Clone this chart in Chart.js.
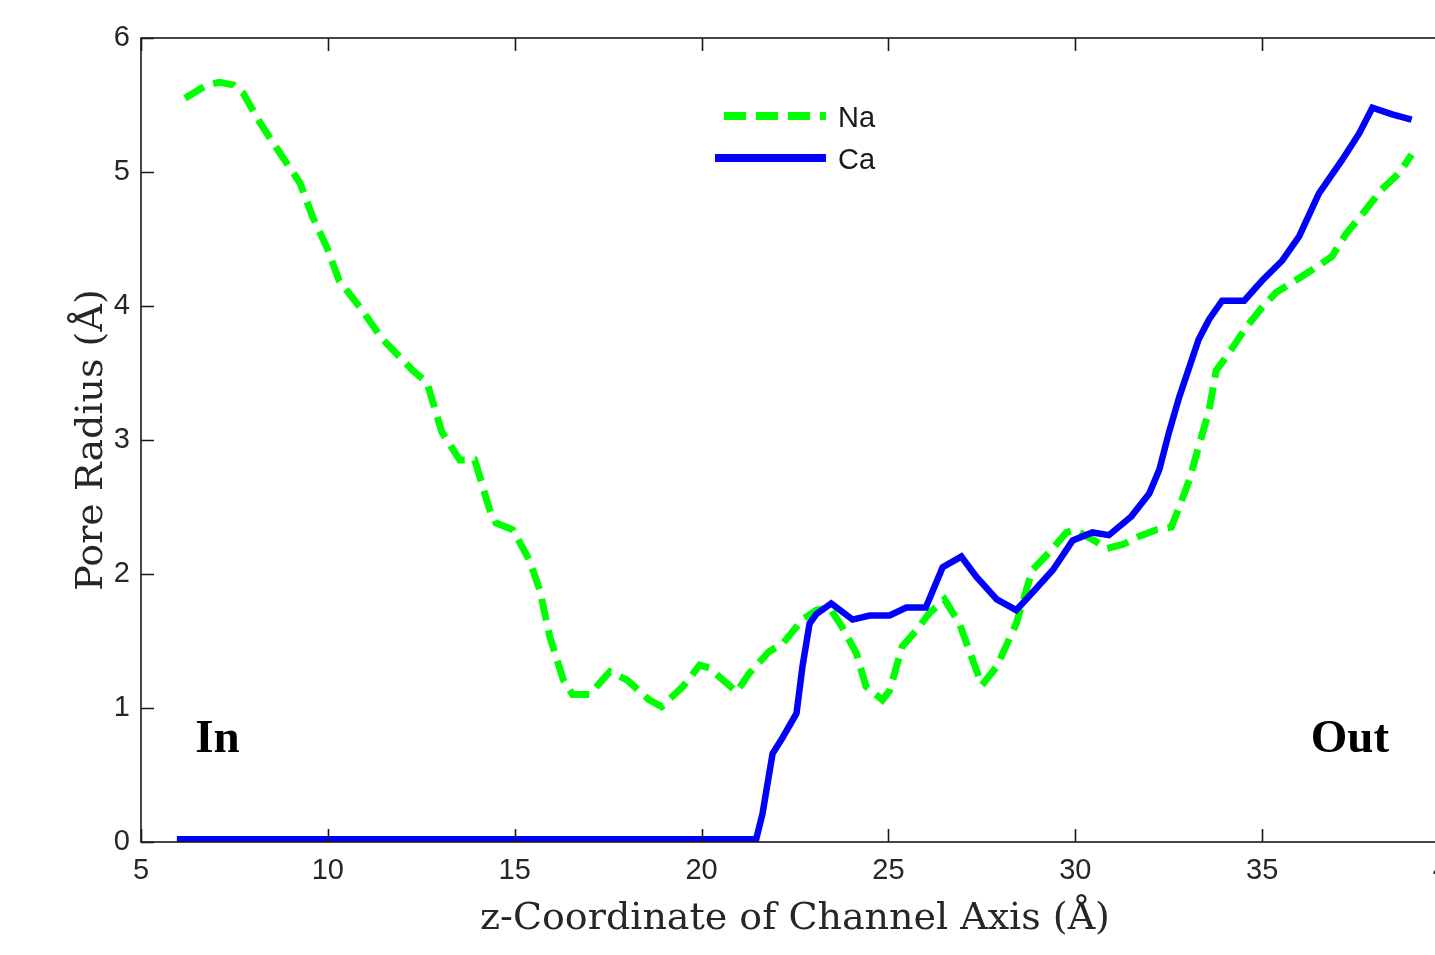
<!DOCTYPE html>
<html>
<head>
<meta charset="utf-8">
<script src="https://cdn.jsdelivr.net/npm/chart.js@4.4.1/dist/chart.umd.min.js"></script>
<style>
  html, body { margin: 0; padding: 0; background: #fff; overflow: hidden; width: 1435px; height: 955px; }
  canvas { display: block; }
</style>
</head>
<body>
<canvas id="c" width="1480" height="955" style="width:1480px;height:955px"></canvas>
<script>
// ---- data ----
const naX = [6.18, 6.76, 7.1, 7.47, 7.73, 8.18, 8.72, 9.25, 9.6, 9.97, 10.3, 10.86, 11.47, 12.27, 12.65, 13.05, 13.53, 13.93, 14.33, 14.5, 14.95, 15.4, 15.67, 15.94, 16.3, 16.55, 17.0, 17.54, 18.0, 18.6, 18.93, 19.5, 19.95, 20.2, 20.94, 21.28, 21.8, 22.17, 22.7, 23.07, 23.42, 23.77, 24.14, 24.4, 24.84, 25.03, 25.37, 25.75, 26.1, 26.5, 26.9, 27.5, 27.9, 28.42, 28.85, 29.3, 29.76, 30.0, 30.56, 30.83, 31.27, 31.7, 32.17, 32.57, 32.78, 33.05, 33.3, 33.58, 33.77, 34.04, 34.57, 35.0, 35.37, 35.72, 36.34, 36.87, 37.25, 37.78, 38.2, 38.66, 39.0];
const naY = [5.55, 5.65, 5.67, 5.65, 5.59, 5.37, 5.14, 4.92, 4.66, 4.44, 4.19, 3.99, 3.75, 3.52, 3.43, 3.06, 2.85, 2.85, 2.48, 2.38, 2.33, 2.1, 1.88, 1.53, 1.21, 1.1, 1.1, 1.27, 1.21, 1.06, 1.01, 1.16, 1.32, 1.3, 1.12, 1.26, 1.42, 1.48, 1.66, 1.73, 1.75, 1.6, 1.41, 1.16, 1.06, 1.13, 1.46, 1.58, 1.71, 1.81, 1.63, 1.17, 1.31, 1.63, 2.03, 2.16, 2.31, 2.33, 2.24, 2.19, 2.22, 2.28, 2.33, 2.35, 2.5, 2.7, 2.95, 3.22, 3.52, 3.62, 3.84, 3.99, 4.1, 4.16, 4.27, 4.37, 4.54, 4.72, 4.87, 4.99, 5.13];
const caX = [5.96, 21.46, 21.63, 21.9, 22.17, 22.54, 22.7, 22.89, 23.07, 23.47, 24.04, 24.5, 25.03, 25.48, 26.0, 26.45, 26.95, 27.35, 27.9, 28.42, 28.85, 29.4, 29.93, 30.46, 30.9, 31.5, 31.98, 32.25, 32.5, 32.78, 33.3, 33.58, 33.93, 34.52, 35.0, 35.54, 35.99, 36.52, 37.14, 37.6, 37.95, 38.48, 39.0];
const caY = [0.02, 0.02, 0.21, 0.66, 0.78, 0.96, 1.31, 1.63, 1.70, 1.78, 1.66, 1.69, 1.69, 1.75, 1.75, 2.05, 2.13, 1.98, 1.81, 1.73, 1.86, 2.03, 2.25, 2.31, 2.29, 2.43, 2.60, 2.78, 3.05, 3.32, 3.75, 3.90, 4.04, 4.04, 4.19, 4.34, 4.52, 4.84, 5.09, 5.29, 5.48, 5.43, 5.39];
const seriesNames = ["Na", "Ca"];
const xTitle = "z-Coordinate of Channel Axis (Å)";
const yTitle = "Pore Radius (Å)";
const xMin = 5, xMax = 40, xStep = 5;
const yMin = 0, yMax = 6, yStep = 1;
const sideLabels = [{ text: "In", x: 6.45, y: 0.67 }, { text: "Out", x: 36.3, y: 0.67 }];

const tickFont = '"Liberation Sans Narrow", "Liberation Sans", Arial, sans-serif';
const toPts = (xs, ys) => xs.map((x, i) => ({ x: x, y: ys[i] }));

const frameAndExtras = {
  id: 'frameAndExtras',
  afterDatasetsDraw(chart) {
    const ctx = chart.ctx;
    const a = chart.chartArea;
    const xs = chart.scales.x, ys = chart.scales.y;
    ctx.save();
    // box
    ctx.strokeStyle = '#1a1a1a';
    ctx.lineWidth = 1.6;
    ctx.strokeRect(a.left, a.top, a.right - a.left, a.bottom - a.top);
    // inside ticks
    ctx.beginPath();
    xs.ticks.forEach(t => {
      const px = Math.round(xs.getPixelForValue(t.value)) + 0.5;
      ctx.moveTo(px, a.bottom); ctx.lineTo(px, a.bottom - 13);
      ctx.moveTo(px, a.top); ctx.lineTo(px, a.top + 13);
    });
    ys.ticks.forEach(t => {
      const py = Math.round(ys.getPixelForValue(t.value)) + 0.5;
      ctx.moveTo(a.left, py); ctx.lineTo(a.left + 13, py);
      ctx.moveTo(a.right, py); ctx.lineTo(a.right - 13, py);
    });
    ctx.stroke();
    // In / Out labels
    ctx.fillStyle = '#000';
    ctx.font = 'bold 47px "Liberation Serif", "Times New Roman", serif';
    ctx.textBaseline = 'alphabetic';
    ctx.textAlign = 'left';
    sideLabels.forEach(l => {
      ctx.fillText(l.text, xs.getPixelForValue(l.x), ys.getPixelForValue(l.y));
    });
    // legend
    const ds = chart.data.datasets;
    const legendOrder = [1, 0]; // Na then Ca (dataset indices)
    const lx0 = 715, lx1 = 826, ly0 = 116, lgap = 42, tx = 838;
    ctx.font = '29px ' + tickFont;
    ctx.textBaseline = 'middle';
    legendOrder.forEach((di, k) => {
      const d = ds[di];
      const y = ly0 + k * lgap;
      ctx.strokeStyle = d.borderColor;
      ctx.lineWidth = 8;
      ctx.lineCap = 'butt';
      ctx.setLineDash(d.borderDash || []);
      ctx.beginPath();
      ctx.moveTo(d.borderDash ? lx0 + 9 : lx0, y);
      ctx.lineTo(lx1, y);
      ctx.stroke();
      ctx.setLineDash([]);
      ctx.fillStyle = '#1a1a1a';
      ctx.fillText(d.label, tx, y + 3);
    });
    ctx.restore();
  }
};

new Chart(document.getElementById('c'), {
  type: 'line',
  data: {
    datasets: [
      {
        label: seriesNames[1],
        data: toPts(caX, caY),
        borderColor: '#0000ff',
        borderWidth: 6.5,
        pointRadius: 0,
        tension: 0,
        fill: false,
        order: 0
      },
      {
        label: seriesNames[0],
        data: toPts(naX, naY),
        borderColor: '#00ff00',
        borderWidth: 7,
        borderDash: [22, 10],
        pointRadius: 0,
        tension: 0,
        fill: false,
        order: 1
      }
    ]
  },
  options: {
    responsive: false,
    animation: false,
    devicePixelRatio: 1,
    layout: { padding: { left: 0, top: 38, right: 31, bottom: 0 } },
    plugins: { legend: { display: false }, tooltip: { enabled: false } },
    scales: {
      x: {
        type: 'linear',
        min: xMin, max: xMax,
        afterFit(s) { s.height = 113; },
        ticks: { stepSize: xStep, color: '#262626', padding: 12, maxRotation: 0,
                 font: { family: tickFont, size: 29 } },
        grid: { display: false, drawTicks: false },
        border: { display: false },
        title: { display: true, text: xTitle, color: '#262626', padding: { top: 4, bottom: 13 },
                 font: { family: '"DejaVu Serif", serif', size: 38 } }
      },
      y: {
        type: 'linear',
        min: yMin, max: yMax,
        afterFit(s) { s.width = 141; },
        ticks: { stepSize: yStep, color: '#262626', padding: 11,
                 font: { family: tickFont, size: 29 } },
        grid: { display: false, drawTicks: false },
        border: { display: false },
        title: { display: true, text: yTitle, color: '#262626', padding: { top: 69, bottom: 0 },
                 font: { family: '"DejaVu Serif", serif', size: 38 } }
      }
    }
  },
  plugins: [frameAndExtras]
});
</script>
</body>
</html>
